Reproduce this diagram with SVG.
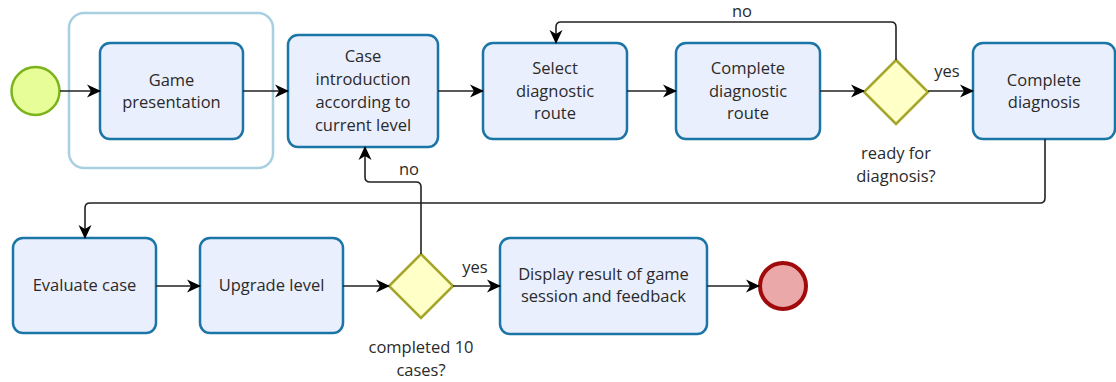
<svg xmlns="http://www.w3.org/2000/svg" width="1116" height="382" viewBox="0 0 1116 382">
<defs>
<marker id="arr" markerUnits="userSpaceOnUse" markerWidth="15" markerHeight="15" refX="13" refY="7.5" orient="auto">
<path d="M0,1 L14,7.5 L0,14 L4,7.5 z" fill="#000"/>
</marker>
<style>
.task{fill:#eaeffd;stroke:#1b75a6;stroke-width:2.5}
.grp{fill:none;stroke:#a9d0e0;stroke-width:2.5}
.gw{fill:#ffffc8;stroke:#a5a52a;stroke-width:2.5}
.t{font-family:"Open Sans","Liberation Sans",sans-serif;font-size:16.5px;fill:#2a2a2a;text-anchor:middle}
.ea{fill:none;stroke:#222;stroke-width:1.6;marker-end:url(#arr)}
</style>
</defs>
<g id="group-frame"><rect class="grp" x="69" y="13" width="204" height="155" rx="15"/></g>
<g id="start"><circle cx="35.5" cy="91" r="24" fill="#e6fd98" stroke="#7bb31a" stroke-width="2.5"/></g>
<g id="game-presentation"><rect class="task" x="100" y="43" width="143" height="96" rx="10"/><text class="t" x="171.5" y="86">Game</text><text class="t" x="171.5" y="108">presentation</text></g>
<g id="case-intro"><rect class="task" x="288" y="35" width="150" height="112" rx="10"/><text class="t" x="363" y="62">Case</text><text class="t" x="363" y="85">introduction</text><text class="t" x="363" y="108">according to</text><text class="t" x="363" y="131">current level</text></g>
<g id="select-route"><rect class="task" x="483" y="43" width="144" height="96" rx="10"/><text class="t" x="555" y="74">Select</text><text class="t" x="555" y="97">diagnostic</text><text class="t" x="555" y="119">route</text></g>
<g id="complete-route"><rect class="task" x="676" y="43" width="144" height="96" rx="10"/><text class="t" x="748" y="74">Complete</text><text class="t" x="748" y="97">diagnostic</text><text class="t" x="748" y="119">route</text></g>
<g id="gw-ready"><polygon class="gw" points="896,60 928,92 896,124 864,92"/><text class="t" x="896" y="159">ready for</text><text class="t" x="896" y="182">diagnosis?</text></g>
<g id="complete-diagnosis"><rect class="task" x="973" y="43" width="142" height="96" rx="10"/><text class="t" x="1044" y="86">Complete</text><text class="t" x="1044" y="108">diagnosis</text></g>
<g id="evaluate-case"><rect class="task" x="13" y="238" width="143" height="95" rx="10"/><text class="t" x="84.5" y="291">Evaluate case</text></g>
<g id="upgrade-level"><rect class="task" x="200" y="238" width="143" height="95" rx="10"/><text class="t" x="271.5" y="291">Upgrade level</text></g>
<g id="gw-completed"><polygon class="gw" points="421,254 453,286 421,318 389,286"/><text class="t" x="421" y="353">completed 10</text><text class="t" x="421" y="376">cases?</text></g>
<g id="display-result"><rect class="task" x="500" y="238" width="207" height="96" rx="10"/><text class="t" x="603.5" y="280">Display result of game</text><text class="t" x="603.5" y="302">session and feedback</text></g>
<g id="end"><circle cx="783" cy="286" r="23" fill="#eba8a8" stroke="#a10a0a" stroke-width="4"/></g>
<g id="connectors">
<path class="ea" d="M60,91 H100"/>
<path class="ea" d="M243,91 H288"/>
<path class="ea" d="M438,91 H483"/>
<path class="ea" d="M627,91 H676"/>
<path class="ea" d="M820,91 H864"/>
<path class="ea" d="M928,91 H973"/>
<path class="ea" d="M896,60 V27 Q896,22 891,22 H561 Q556,22 556,27 V43"/>
<path class="ea" d="M1045,139 V198 Q1045,203 1040,203 H90 Q85,203 85,208 V238"/>
<path class="ea" d="M156,286 H200"/>
<path class="ea" d="M343,286 H389"/>
<path class="ea" d="M453,286 H500"/>
<path class="ea" d="M707,286 H759"/>
<path class="ea" d="M421,254 V187 Q421,182 416,182 H370 Q365,182 365,177 V147"/>
<text class="t" x="742" y="17">no</text>
<text class="t" x="947" y="77">yes</text>
<text class="t" x="409" y="175">no</text>
<text class="t" x="475" y="273">yes</text>
</g>
</svg>
